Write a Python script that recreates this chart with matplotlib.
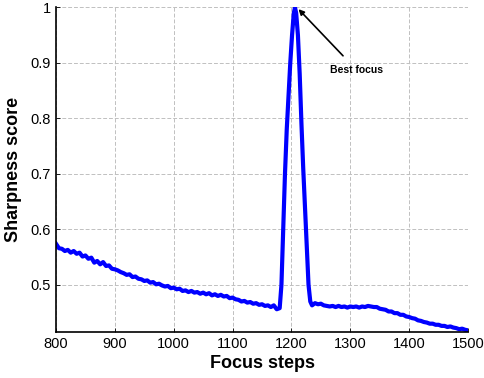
import numpy as np
import matplotlib
matplotlib.use('Agg')
import matplotlib.pyplot as plt
from matplotlib.ticker import FormatStrFormatter

# focus sweep before the peak (every 5 steps)
steps_pre = np.arange(800, 1181, 5)
score_pre = [0.574, 0.566, 0.565, 0.561, 0.563, 0.558, 0.561, 0.556, 0.558, 0.551,
             0.553, 0.547, 0.549, 0.540, 0.543, 0.537, 0.541, 0.534, 0.535, 0.529,
             0.528, 0.526, 0.523, 0.521, 0.518, 0.519, 0.514, 0.515, 0.511, 0.510,
             0.507, 0.508, 0.504, 0.505, 0.501, 0.502, 0.499, 0.497, 0.498, 0.494,
             0.495, 0.492, 0.493, 0.489, 0.490, 0.487, 0.489, 0.486, 0.487, 0.484,
             0.486, 0.483, 0.485, 0.481, 0.483, 0.480, 0.482, 0.479, 0.480, 0.476,
             0.477, 0.474, 0.473, 0.470, 0.471, 0.468, 0.469, 0.466, 0.467, 0.464,
             0.465, 0.462, 0.463, 0.460, 0.463, 0.456, 0.458]

# peak region
steps_peak = [1183, 1186, 1189, 1192, 1195, 1198, 1201, 1204, 1206, 1208,
              1211, 1214, 1217, 1220, 1223, 1226, 1229, 1232]
score_peak = [0.50, 0.60, 0.70, 0.78, 0.84, 0.90, 0.95, 0.99, 1.00, 0.99,
              0.95, 0.88, 0.79, 0.71, 0.64, 0.57, 0.50, 0.47]

# after the peak (every 5 steps)
steps_post = np.arange(1235, 1501, 5)
score_post = [0.463, 0.467, 0.465, 0.466, 0.463, 0.462, 0.461, 0.462, 0.460, 0.462,
              0.460, 0.461, 0.459, 0.461, 0.460, 0.461, 0.459, 0.461, 0.460, 0.462,
              0.461, 0.460, 0.460, 0.457, 0.456, 0.455, 0.452, 0.452, 0.449, 0.449,
              0.446, 0.446, 0.443, 0.442, 0.440, 0.439, 0.436, 0.435, 0.433, 0.432,
              0.430, 0.430, 0.428, 0.428, 0.426, 0.426, 0.424, 0.425, 0.423, 0.422,
              0.420, 0.421, 0.419, 0.418]

steps = np.concatenate([steps_pre, steps_peak, steps_post])
score = np.concatenate([score_pre, score_peak, score_post])

best_step = 1206
best_score = 1.0

plt.rcParams['font.family'] = ['Liberation Sans', 'DejaVu Sans']

fig = plt.figure(figsize=(4.85, 3.78), dpi=100)
ax = fig.add_axes([0.1155, 0.1217, 0.8495, 0.8585])

ax.plot(steps, score, color='#0000ff', lw=3.0)

ax.set_xlim(800, 1500)
ax.set_ylim(0.415, 1.0)
ax.set_xticks(np.arange(800, 1501, 100))
ax.set_yticks([0.5, 0.6, 0.7, 0.8, 0.9, 1.0])
ax.yaxis.set_major_formatter(FormatStrFormatter('%g'))
ax.tick_params(direction='in', labelsize=10.5, length=3, width=0.6)

ax.grid(True, color='#c0c0c0', linestyle=(0, (4, 2)), linewidth=0.7)
ax.set_axisbelow(True)
for side in ['top', 'right']:
    ax.spines[side].set_visible(False)
for side in ['left', 'bottom']:
    ax.spines[side].set_linewidth(1.2)

ax.set_xlabel('Focus steps', fontsize=13, fontweight='bold', labelpad=3)
ax.set_ylabel('Sharpness score', fontsize=13, fontweight='bold', labelpad=6)

ax.annotate('Best focus', xy=(best_step + 6, best_score - 0.003), xytext=(1310, 0.888),
            fontsize=7.5, fontweight='bold', ha='center', va='center',
            arrowprops=dict(arrowstyle='-|>', color='black', lw=1.2,
                            mutation_scale=8, shrinkA=6, shrinkB=0))

fig.savefig('out.png', dpi=100)
plt.close(fig)
